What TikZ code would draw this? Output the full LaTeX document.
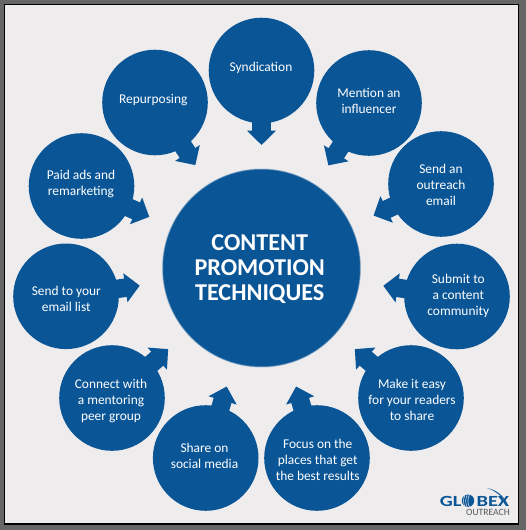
\documentclass[tikz,border=0pt]{standalone}
\usepackage{fontspec}
\setmainfont{Carlito}
\usetikzlibrary{calc,arrows.meta}
\definecolor{bluefill}{HTML}{0A5596}
\definecolor{paper}{HTML}{EEECED}
\definecolor{frame}{HTML}{666666}
\definecolor{logogray}{HTML}{55595C}
\tikzset{
 bubble/.style={circle,fill=bluefill,minimum size=105.6pt,inner sep=0pt},
 bubbletext/.style={text=white,inner sep=0pt,align=center,yshift=-0.2pt,font=\fontsize{13.4}{15.9}\selectfont},
 hubnode/.style={circle,fill=bluefill,minimum size=196pt,inner sep=0pt},
 hubtext/.style={text=white,inner sep=0pt,align=center,font=\fontsize{24.2}{25}\selectfont\bfseries},
 pointer/.style={draw=bluefill,line width=18.5pt,-{Triangle[length=14.5pt,width=28.5pt,fill=bluefill]}},
 logobig/.style={inner sep=0pt,text=bluefill,xscale=1.32,font=\fontsize{15.5}{15.5}\selectfont\bfseries},
}
\newcommand{\pointat}[1]{\draw[pointer] ($(#1)!50pt!(hub)$) -- ($(#1)!74.5pt!(hub)$);}
\begin{document}
\begin{tikzpicture}[x=1pt,y=-1pt]
\useasboundingbox (0,0) rectangle (526,530);
\fill[frame] (0,0) rectangle (526,530);
\fill[paper,draw=black,line width=1.4pt] (4.7,4.7) rectangle (518.3,524);
\foreach \r/\o in {99.5/.25,99/.5,98.5/.75}{\fill[bluefill,opacity=\o] (261.5,268) circle (\r pt);}
\node[hubnode] (hub) at (261.5,268) {};
\node[hubtext] (hubt) at (259.7,269) {CONTENT\\PROMOTION\\TECHNIQUES};
\node[bubble] (b1) at (261.5,70.5) {};
\node[bubble] (b2) at (369,103) {};
\node[bubble] (b3) at (441,184) {};
\node[bubble] (b4) at (457,296.5) {};
\node[bubble] (b5) at (411,398) {};
\node[bubble] (b6) at (317,458) {};
\node[bubble] (b7) at (205.7,458) {};
\node[bubble] (b8) at (112,398) {};
\node[bubble] (b9) at (66,296.3) {};
\node[bubble] (b10) at (81.5,186) {};
\node[bubble] (b11) at (155,102.5) {};
\foreach \n in {b1,b2,b3,b4,b5,b6,b7,b8,b9,b10,b11}{\pointat{\n}}
\node[bubbletext] (t1) at (261,67.7) {Syndication};
\node[bubbletext] (t2) at (369,100.3) {Mention an\\influencer};
\node[bubbletext] (t3) at (441,185) {Send an\\outreach\\email};
\node[bubbletext] (t4) at (458.3,296) {Submit to\\a content\\community};
\node[bubbletext] (t5) at (412,400) {Make it easy\\for your readers\\to share};
\node[bubbletext] (t6) at (317.7,460) {Focus on the\\places that get\\the best results};
\node[bubbletext] (t7) at (204.5,456) {Share on\\social media};
\node[bubbletext] (t8) at (111,401) {Connect with\\a mentoring\\peer group};
\node[bubbletext] (t9) at (66.3,298.7) {Send to your\\email list};
\node[bubbletext] (t10) at (81,183.7) {Paid ads and\\remarketing};
\node[bubbletext] (t11) at (153.3,100) {Repurposing};
% logo
\node[logobig,anchor=base west] (gl) at (439.5,506.5) {GL};
\fill[bluefill] (468,500.7) circle (6.2pt);
\foreach \a in {1,3.2,5.4}{\draw[paper,line width=.5pt] (464+\a,495) .. controls (462+\a,499) and (462+\a,503) .. (464+\a,507);}
\node[logobig,anchor=base east] (bex) at (509.5,506.5) {BEX};
\fill[bluefill] (487,488) .. controls (497,490) and (504,496) .. (508,505) .. controls (503,497) and (496,491) .. cycle;
\node[anchor=base east,inner sep=0pt,text=logogray,font=\fontsize{9.6}{10}\selectfont] (out) at (510,515.5) {OUTREACH};
\end{tikzpicture}
\end{document}
